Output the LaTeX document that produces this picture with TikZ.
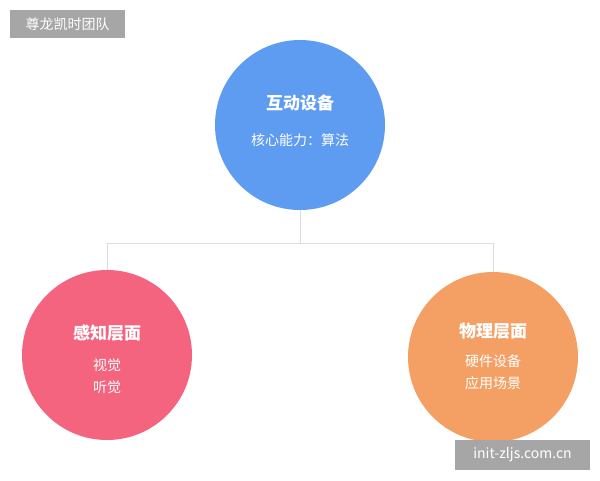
\documentclass[tikz,border=0pt]{standalone}
\usepackage{fontspec}
\newfontfamily\cjk{Noto Sans CJK SC}
\definecolor{cblue}{HTML}{5E9CF1}
\definecolor{cpink}{HTML}{F4647F}
\definecolor{corange}{HTML}{F4A065}
\definecolor{lgray}{HTML}{DDDDDD}
\definecolor{wm}{HTML}{A6A6A6}
\tikzset{
 circ/.style={circle,minimum size=170pt,inner sep=0,text=white,align=center},
 ttl/.style={font=\cjk\fontsize{17}{20}\selectfont\bfseries},
 sub/.style={font=\cjk\fontsize{14}{22}\selectfont},
 conn/.style={draw=lgray,line width=1pt},
 wmbox/.style={fill=wm,text=white,inner sep=0,font=\cjk\fontsize{14}{16}\selectfont}
}
\begin{document}
\begin{tikzpicture}[x=1pt,y=-1pt]
\useasboundingbox (0,0) rectangle (600,480);
\fill[white] (0,0) rectangle (600,480);
\node[circ,fill=cblue] (top) at (300,125) {};
\node[circ,fill=cpink] (left) at (107,355) {};
\node[circ,fill=corange] (right) at (493,357) {};
\node[ttl,text=white] (t1) at (300,103) {互动设备};
\node[sub,text=white] (s1) at (300,140) {核心能力：算法};
\node[ttl,text=white] (t2) at (107,333) {感知层面};
\node[sub,text=white,align=center] (s2) at (107,376) {视觉\\听觉};
\node[ttl,text=white] (t3) at (493,331) {物理层面};
\node[sub,text=white,align=center] (s3) at (493,372) {硬件设备\\应用场景};
\coordinate (j) at (300,243);
\coordinate (jl) at (107,243);
\coordinate (jr) at (493,243);
\draw[conn] (top.south) -- (j);
\draw[conn] (jl) -- (jr);
\draw[conn] (jl) -- (left.north);
\draw[conn] (jr) -- (right.north);
\node[wmbox,minimum width=115pt,minimum height=28pt] (m1) at (67.5,24) {尊龙凯时团队};
\node[wmbox,minimum width=135pt,minimum height=30pt] (m2) at (522.5,455) {init-zljs.com.cn};
\end{tikzpicture}
\end{document}
